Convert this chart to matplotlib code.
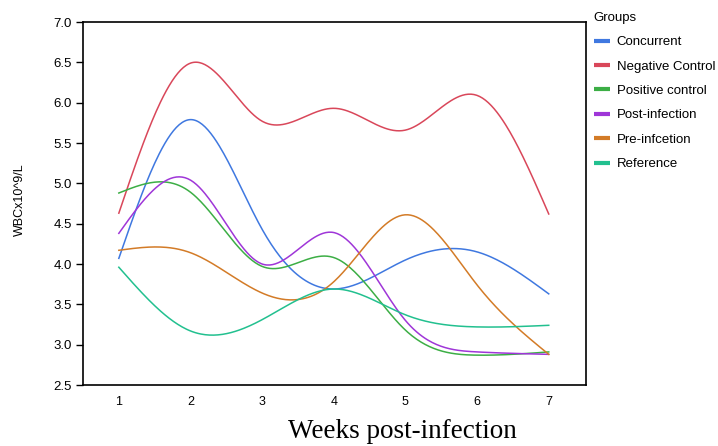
import matplotlib.pyplot as plt
import numpy as np

# WBC counts (x10^9/L) per group, by week post-infection
weeks = [1, 2, 3, 4, 5, 6, 7]
concurrent = [4.07, 5.79, 4.43, 3.69, 4.05, 4.15, 3.63]
negative_control = [4.63, 6.49, 5.77, 5.93, 5.66, 6.09, 4.62]
positive_control = [4.88, 4.89, 3.97, 4.08, 3.18, 2.87, 2.91]
post_infection = [4.38, 5.04, 4.00, 4.39, 3.30, 2.91, 2.88]
pre_infection = [4.17, 4.14, 3.64, 3.78, 4.61, 3.74, 2.88]
reference = [3.96, 3.17, 3.31, 3.69, 3.37, 3.22, 3.24]

groups = ["Concurrent", "Negative Control", "Positive control",
          "Post-infection", "Pre-infcetion", "Reference"]
colors = ["#3f78e0", "#d9475a", "#3cae45", "#9f36d8", "#d37b27", "#22c08f"]


def natural_spline(x, y, n=300):
    """Natural cubic spline through the points, sampled on a fine grid."""
    x = np.asarray(x, float)
    y = np.asarray(y, float)
    k = len(x)
    h = np.diff(x)
    a = np.zeros((k, k))
    b = np.zeros(k)
    a[0, 0] = a[-1, -1] = 1
    for i in range(1, k - 1):
        a[i, i - 1] = h[i - 1]
        a[i, i] = 2 * (h[i - 1] + h[i])
        a[i, i + 1] = h[i]
        b[i] = 6 * ((y[i + 1] - y[i]) / h[i] - (y[i] - y[i - 1]) / h[i - 1])
    m = np.linalg.solve(a, b)
    xs = np.linspace(x[0], x[-1], n)
    idx = np.clip(np.searchsorted(x, xs) - 1, 0, k - 2)
    x0, x1 = x[idx], x[idx + 1]
    hh = x1 - x0
    t0, t1 = x1 - xs, xs - x0
    ys = (m[idx] * t0**3 + m[idx + 1] * t1**3) / (6 * hh) \
        + (y[idx] / hh - m[idx] * hh / 6) * t0 \
        + (y[idx + 1] / hh - m[idx + 1] * hh / 6) * t1
    return xs, ys


plt.rcParams["font.family"] = ["Liberation Sans", "DejaVu Sans"]

fig = plt.figure(figsize=(7.18, 4.46), dpi=100)
ax = fig.add_axes([83 / 718, 1 - 385 / 446, 503 / 718, 363 / 446])

series = [concurrent, negative_control, positive_control,
          post_infection, pre_infection, reference]
for name, vals, col in zip(groups, series, colors):
    xs, ys = natural_spline(weeks, vals)
    ax.plot(xs, ys, color=col, lw=1.1, label=name)

ax.set_xlim(0.5, 7.52)
ax.set_ylim(2.5, 7.0)
ax.set_xticks(weeks)
ax.set_yticks(np.arange(2.5, 7.01, 0.5))
ax.yaxis.set_major_formatter(plt.FormatStrFormatter("%.1f"))
ax.tick_params(axis="y", direction="out", length=5, width=1, labelsize=9.5,
               pad=3)
ax.tick_params(axis="x", length=0, labelsize=9, pad=8)
for sp in ax.spines.values():
    sp.set_linewidth(1.2)

fig.text(20 / 718, 1 - 200 / 446, "WBCx10^9/L", rotation=90, fontsize=9,
         ha="center", va="center")
fig.text(402 / 718, 1 - 432 / 446, "Weeks post-infection",
         family=["Liberation Serif", "DejaVu Serif"], fontsize=19.5,
         ha="center", va="center")

handles, labels = ax.get_legend_handles_labels()
leg = fig.legend(handles, labels, title="Groups", loc="upper left",
                 bbox_to_anchor=(582 / 718, 1 - 0 / 446), frameon=False,
                 fontsize=9.5, title_fontsize=9.5, handlelength=1.2,
                 handletextpad=0.53, labelspacing=0.92, alignment="left")
for line in leg.get_lines():
    line.set_linewidth(3)
    line.set_solid_capstyle("butt")

fig.savefig("out.png", dpi=100)
